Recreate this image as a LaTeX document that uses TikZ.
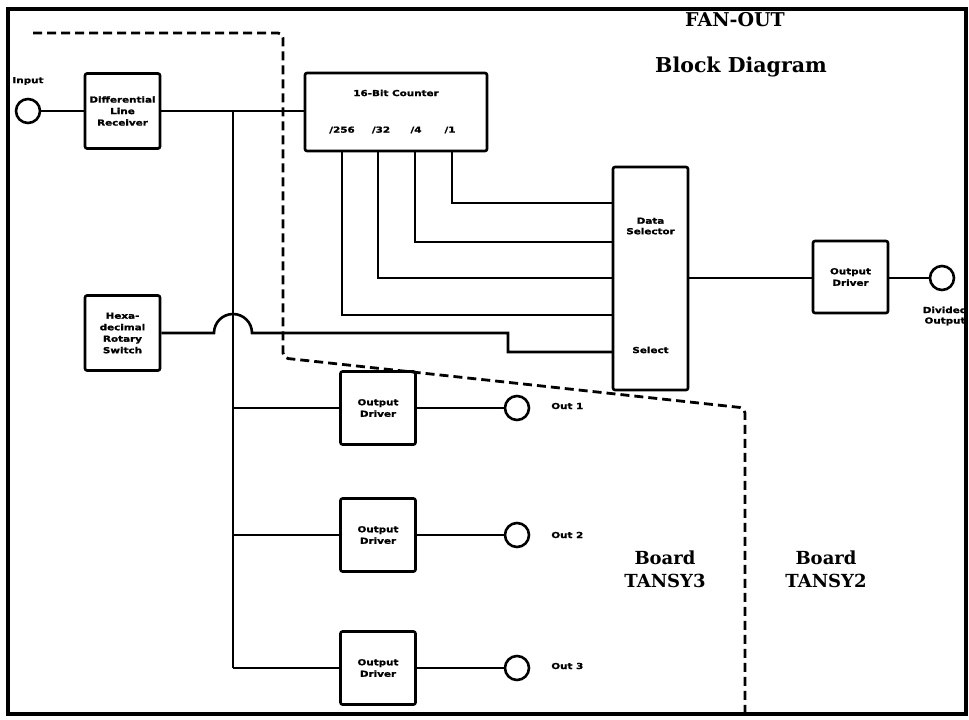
\documentclass[tikz,border=0pt]{standalone}
\usepackage{fontspec}
\newfontfamily\labfont[FakeStretch=1.25,FakeBold=1.5]{DejaVu Sans}
\newfontfamily\titfont{DejaVu Serif}
\begin{document}
\begin{tikzpicture}[x=1pt,y=-1pt,line width=2.6pt,
  blk/.style={draw,line width=2.6pt,rounded corners=2pt,inner sep=0pt,align=center,
    font=\labfont\bfseries\fontsize{8.3}{11.5}\selectfont},
  circ/.style={draw,circle,minimum size=24pt,inner sep=0pt,line width=2.6pt},
  lab/.style={inner sep=0pt,align=center,font=\labfont\bfseries\fontsize{8.3}{10.5}\selectfont},
  bigtxt/.style={inner sep=0pt,align=center,font=\titfont\bfseries\fontsize{18}{23}\selectfont},
  bdash/.style={line width=2.8pt,dash pattern=on 9pt off 5pt,rounded corners=5pt}]
\useasboundingbox (0,0) rectangle (969,720);
\draw[line width=3.5pt] (8,9) rectangle (966,714);

% titles
\node[inner sep=0pt,font=\titfont\bfseries\fontsize{19}{24}\selectfont] (t1) at (735,20) {FAN-OUT};
\node[inner sep=0pt,font=\titfont\bfseries\fontsize{20.5}{26}\selectfont] (t2) at (741,67) {Block Diagram};
\node[bigtxt] (b3) at (665,569) {Board\\TANSY3};
\node[bigtxt] (b2) at (826,569) {Board\\TANSY2};

% board boundary
\draw[bdash] (33,33) -- (283,33) -- (283,358) -- (745,408) -- (745,714);

% input side
\node[circ] (in) at (28,111) {};
\node[lab] (inlab) at (28,81) {Input};
\node[blk,minimum width=75pt,minimum height=75pt] (dlr) at (122.5,111) {Differential\\Line\\Receiver};
\node[blk,minimum width=182pt,minimum height=78pt] (cnt) at (396,112) {};
\node[lab] (cntt) at (396,93) {16-Bit Counter};
\node[lab] (l256) at (342,130) {/256};
\node[lab] (l32) at (381,130) {/32};
\node[lab] (l4) at (416,130) {/4};
\node[lab] (l1) at (450,130) {/1};

\node[blk,minimum width=75pt,minimum height=75pt] (hex) at (122.5,333) {Hexa-\\decimal\\Rotary\\Switch};

\node[blk,minimum width=75pt,minimum height=223pt] (ds) at (650.5,278.5) {};
\node[lab] (dst) at (650.5,226) {Data\\Selector};
\node[lab] (selt) at (650.5,350) {Select};

\node[blk,minimum width=75pt,minimum height=72pt] (odr) at (850.5,277) {Output\\Driver};
\node[circ] (dout) at (942,278) {};
\node[lab] (doutl) at (945,316) {Divided\\Output};

\node[blk,minimum width=75pt,minimum height=73pt] (od1) at (378,408) {Output\\Driver};
\node[blk,minimum width=75pt,minimum height=73pt] (od2) at (378,535) {Output\\Driver};
\node[blk,minimum width=75pt,minimum height=73pt] (od3) at (378,668) {Output\\Driver};
\node[circ] (o1) at (517,408) {};
\node[circ] (o2) at (517,535) {};
\node[circ] (o3) at (517,668) {};
\node[lab,anchor=west] (o1l) at (550,406) {Out 1};
\node[lab,anchor=west] (o2l) at (550,535) {Out 2};
\node[lab,anchor=west] (o3l) at (550,666) {Out 3};

% coordinates
\coordinate (j1) at (233,111);
\coordinate (j2) at (233,408);
\coordinate (j3) at (233,535);
\coordinate (j4) at (233,668);
\coordinate (q256) at (342,151);
\coordinate (q32) at (378,151);
\coordinate (q4) at (415,151);
\coordinate (q1) at (452,151);
\coordinate (d1) at (613,203);
\coordinate (d2) at (613,242);
\coordinate (d3) at (613,278);
\coordinate (d4) at (613,315);
\coordinate (d5) at (613,352);
\coordinate (jp) at (214,333);
\coordinate (bend) at (508,333);

% wires
\draw (in.east) -- (in.east -| dlr.west);
\draw (dlr.east |- j1) -- (cnt.west |- j1);
\draw (j1) -- (j4);
\draw (j2) -- (od1.west);
\draw (j3) -- (od2.west);
\draw (j4) -- (od3.west);
\draw (od1.east) -- (o1.west);
\draw (od2.east) -- (o2.west);
\draw (od3.east) -- (o3.west);
\draw (q1) |- (d1);
\draw (q4) |- (d2);
\draw (q32) |- (d3);
\draw (q256) |- (d4);
\draw (hex.east) -- (jp) arc[start angle=180,end angle=360,radius=19] -- (bend) |- (d5);
\draw (ds.east |- d3) -- (odr.west |- d3);
\draw (odr.east |- dout) -- (dout.west);
\end{tikzpicture}
\end{document}
